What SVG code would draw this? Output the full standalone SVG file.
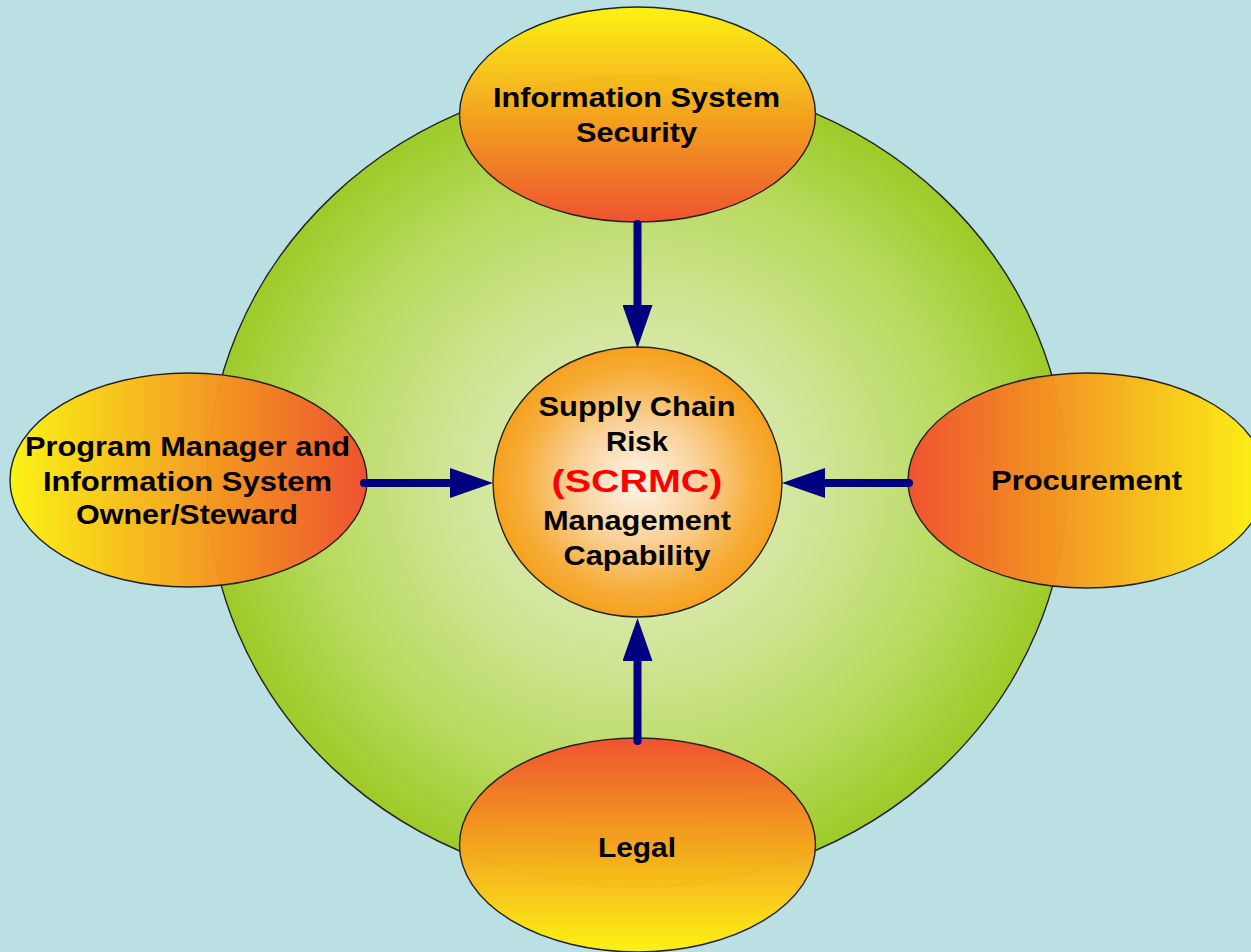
<svg xmlns="http://www.w3.org/2000/svg" width="1251" height="952" viewBox="0 0 1251 952">
  <defs>
    <radialGradient id="greenFill" cx="0.5" cy="0.5" r="0.5">
      <stop offset="0" stop-color="#E3EEC4"/>
      <stop offset="0.4" stop-color="#D2E69B"/>
      <stop offset="0.75" stop-color="#B8DA5E"/>
      <stop offset="1" stop-color="#9DCB28"/>
    </radialGradient>
    <radialGradient id="hubFill" cx="0.5" cy="0.5" r="0.5">
      <stop offset="0" stop-color="#FEF6EA"/>
      <stop offset="0.45" stop-color="#FAD199"/>
      <stop offset="0.8" stop-color="#F7AE3C"/>
      <stop offset="1" stop-color="#F6A11E"/>
    </radialGradient>
    <linearGradient id="gradDown" x1="0" y1="0" x2="0" y2="1">
      <stop offset="0" stop-color="#FDF30E"/>
      <stop offset="0.5" stop-color="#F6A31C"/>
      <stop offset="1" stop-color="#F04E2E"/>
    </linearGradient>
    <linearGradient id="gradUp" x1="0" y1="1" x2="0" y2="0">
      <stop offset="0" stop-color="#FDF30E"/>
      <stop offset="0.5" stop-color="#F6A31C"/>
      <stop offset="1" stop-color="#F04E2E"/>
    </linearGradient>
    <linearGradient id="gradRight" x1="0" y1="0" x2="1" y2="0">
      <stop offset="0" stop-color="#FDF30E"/>
      <stop offset="0.5" stop-color="#F6A31C"/>
      <stop offset="1" stop-color="#F04E2E"/>
    </linearGradient>
    <linearGradient id="gradLeft" x1="1" y1="0" x2="0" y2="0">
      <stop offset="0" stop-color="#FDF30E"/>
      <stop offset="0.5" stop-color="#F6A31C"/>
      <stop offset="1" stop-color="#F04E2E"/>
    </linearGradient>
    <marker id="head" markerUnits="userSpaceOnUse" markerWidth="44" markerHeight="30" refX="0" refY="15" orient="auto" viewBox="0 0 44 30">
      <path d="M0,0 L43,15 L0,30 Z" fill="#000080"/>
    </marker>
    <style>
      .outline { stroke: #222; stroke-width: 1.4; }
      .petal { fill-opacity: 0.97; }
      .label { font-family: "Liberation Sans", Arial, sans-serif; font-weight: bold; font-size: 28px; fill: #000; text-anchor: middle; }
      .accent { font-size: 32px; fill: #FF0000; }
      .link { fill: none; stroke: #000080; stroke-width: 8; stroke-linecap: round; marker-end: url(#head); }
    </style>
  </defs>

  <!-- backdrop -->
  <rect width="1251" height="952" fill="#BAE0E3"/>

  <!-- large green disc behind everything -->
  <g id="ring">
    <ellipse cx="637" cy="482" rx="430" ry="405" fill="url(#greenFill)" class="outline"/>
  </g>

  <!-- central capability -->
  <g id="scrmc">
    <ellipse cx="637.5" cy="482" rx="144.5" ry="135" fill="url(#hubFill)" class="outline"/>
    <text class="label" x="637" y="416" textLength="197" lengthAdjust="spacingAndGlyphs">Supply Chain</text>
    <text class="label" x="637" y="451" textLength="62" lengthAdjust="spacingAndGlyphs">Risk</text>
    <text class="label accent" x="637" y="492" textLength="171" lengthAdjust="spacingAndGlyphs">(SCRMC)</text>
    <text class="label" x="637" y="530" textLength="188" lengthAdjust="spacingAndGlyphs">Management</text>
    <text class="label" x="637" y="565" textLength="147" lengthAdjust="spacingAndGlyphs">Capability</text>
  </g>

  <g id="iss">
    <ellipse cx="637.5" cy="114.5" rx="178" ry="107.5" fill="url(#gradDown)" class="outline petal"/>
    <text class="label" x="636.5" y="107" textLength="287" lengthAdjust="spacingAndGlyphs">Information System</text>
    <text class="label" x="636.5" y="142" textLength="121" lengthAdjust="spacingAndGlyphs">Security</text>
  </g>

  <g id="owner">
    <ellipse cx="188.5" cy="480" rx="178.5" ry="107" fill="url(#gradRight)" class="outline petal"/>
    <text class="label" x="187.5" y="456" textLength="325" lengthAdjust="spacingAndGlyphs">Program Manager and</text>
    <text class="label" x="187.5" y="490.5" textLength="289" lengthAdjust="spacingAndGlyphs">Information System</text>
    <text class="label" x="187" y="524" textLength="222" lengthAdjust="spacingAndGlyphs">Owner/Steward</text>
  </g>

  <g id="procurement">
    <ellipse cx="1087" cy="480.5" rx="179" ry="107.5" fill="url(#gradLeft)" class="outline petal"/>
    <text class="label" x="1086.5" y="490" textLength="191" lengthAdjust="spacingAndGlyphs">Procurement</text>
  </g>

  <g id="legal">
    <ellipse cx="637.5" cy="845" rx="178" ry="107" fill="url(#gradUp)" class="outline petal"/>
    <text class="label" x="637" y="857" textLength="78" lengthAdjust="spacingAndGlyphs">Legal</text>
  </g>

  <!-- inbound arrows toward the capability -->
  <g id="connectors">
    <path class="link" d="M637.5,224 L637.5,305"/>
    <path class="link" d="M637.5,741 L637.5,661"/>
    <path class="link" d="M364,483 L450,483"/>
    <path class="link" d="M909,483 L825,483"/>
  </g>
</svg>
